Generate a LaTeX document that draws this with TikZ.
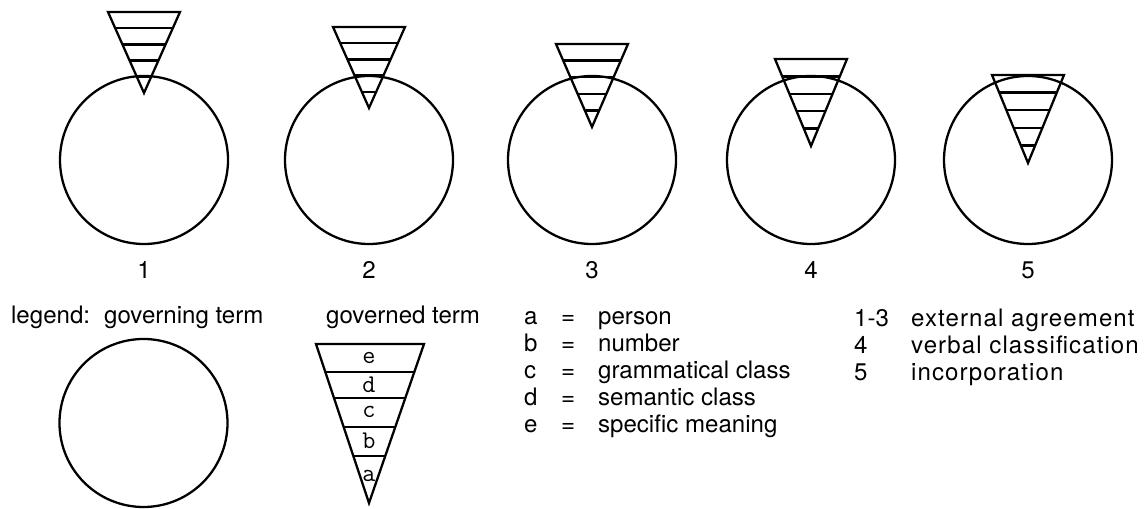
\documentclass[tikz,border=0pt]{standalone}
\usepackage{fontspec}
\setmainfont{TeX Gyre Heros}
\begin{document}
\begin{tikzpicture}[x=0.02cm,y=-0.02cm,line width=1.3pt,
  font=\fontsize{13.7}{16}\selectfont,
  lbl/.style={anchor=base west,inner sep=0pt}]
  \useasboundingbox (0,0) rectangle (1147,509);
  % the five cases: the wedge sinks one band deeper each time
  \foreach \i/\cx/\ty/\ay in {1/144/12/93,2/369/27/108,3/592/44/127,4/811/59/146,5/1028/75/163}{
    \draw (\cx,160) circle (84);
    \draw (\cx-36,\ty) -- (\cx+36,\ty) -- (\cx,\ay) -- cycle;
    \foreach \k in {1,...,4}
      \draw ({\cx-36*(1-\k/5)},{\ty+(\ay-\ty)*\k/5}) -- ({\cx+36*(1-\k/5)},{\ty+(\ay-\ty)*\k/5});
    \node (case\i) at (\cx,270) {\i};
  }
  % legend
  \node[lbl] (legend) at (10,324) {legend:};
  \node[lbl] (governing) at (103,324) {governing term};
  \node[lbl] (governed) at (325,324) {governed term};
  \draw (143.5,423) circle (84);
  \draw (316,344) -- (424,344) -- (369,503) -- cycle;
  \foreach \yy in {372,398,427,456}
    \draw ({370-54*(503-\yy)/159},\yy) -- ({370+54*(503-\yy)/159},\yy);
  \foreach \l/\yy in {e/358,d/385,c/412,b/441,a/476}
    \node[font=\fontsize{14.5}{16}\ttfamily\selectfont,inner sep=0pt] (band\l) at (369,\yy) {\l};
  \foreach \l/\t [count=\r from 0] in {a/person,b/number,c/grammatical class,d/semantic class,e/specific meaning}{
    \node[lbl] (key\l) at (523,{325+27*\r}) {\l};
    \node[lbl] (eq\l) at (560,{325+27*\r}) {=};
    \node[lbl] (mean\l) at (597,{325+27*\r}) {\t};
  }
  \foreach \n/\t [count=\r from 0] in {1-3/external agreement,4/verbal classification,5/incorporation}{
    \node[lbl] (type\r) at (853,{327+27*\r}) {\n};
    \node[lbl,font=\fontsize{13.7}{16}\selectfont\addfontfeature{LetterSpace=4.5}] (kind\r) at (910,{327+27*\r}) {\t};
  }
\end{tikzpicture}
\end{document}
